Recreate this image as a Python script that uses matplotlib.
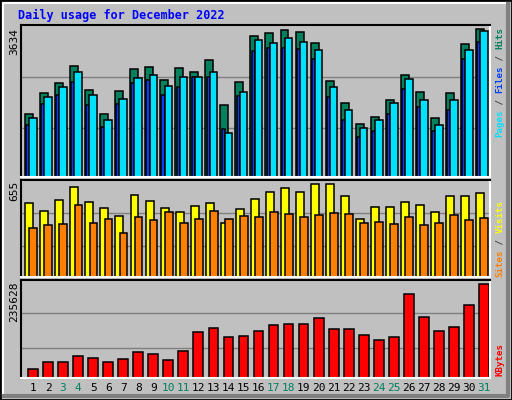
import matplotlib
matplotlib.use("Agg")
import matplotlib.pyplot as plt
import numpy as np

days = list(range(1, 32))
weekend = [3, 4, 10, 11, 17, 18, 24, 25, 31]

hits = [1543, 2066, 2315, 2738, 2141, 1543, 2116, 2663, 2713, 2389, 2688, 2589, 2862, 1767, 2340, 3460,
        3534, 3609, 3559, 3285, 2365, 1817, 1294, 1469, 1892, 2514, 2091, 1444, 2066, 3261, 3634]
files = [1444, 1966, 2215, 2589, 2016, 1394, 1917, 2439, 2514, 2240, 2464, 2464, 2589, 1070, 2091, 3360,
         3285, 3410, 3310, 3111, 2215, 1643, 1195, 1394, 1817, 2414, 1892, 1269, 1892, 3111, 3584]
pages = [1269, 1792, 2016, 2340, 1767, 1220, 1792, 2315, 2389, 2016, 2215, 2464, 2464, 1170, 1991, 3086,
         3161, 3161, 3136, 2887, 1966, 1394, 971, 1120, 1543, 2165, 1717, 1120, 1643, 2887, 3310]
visits = [521, 465, 542, 634, 528, 486, 429, 577, 535, 486, 458, 500, 521, 380, 479, 549,
          598, 627, 598, 655, 655, 570, 408, 493, 493, 528, 507, 458, 570, 570, 591]
sites = [345, 366, 373, 507, 380, 408, 310, 422, 401, 458, 380, 408, 465, 408, 429, 422,
         458, 444, 422, 437, 451, 444, 380, 387, 373, 422, 366, 380, 437, 401, 415]
kbytes = [23050, 40976, 40976, 56342, 51220, 40976, 48659, 64025, 61464, 46098, 66586, 115245, 125489,
          102440, 105001, 117806, 133172, 135733, 135733, 151099, 122928, 122928, 107562, 94757,
          102440, 210002, 153660, 117806, 128050, 184392, 235628]

BG = "#c0c0c0"
C_HITS, C_FILES, C_PAGES = "#00805c", "#00e0ff", "#0040ff"
C_VISITS, C_SITES, C_KB = "#ffff00", "#ff8000", "#ff0000"
MONO = "DejaVu Sans Mono"

W, H = 512, 400
fig = plt.figure(figsize=(W / 100, H / 100), dpi=100, facecolor=BG)

# bevelled window border
fig.patches.append(plt.Rectangle((0, 0), 1, 1, transform=fig.transFigure, fill=False, ec="black", lw=2))
fig.lines.append(plt.Line2D([3 / W, 3 / W, 1 - 3 / W], [3 / H, 1 - 3 / H, 1 - 3 / H],
                            transform=fig.transFigure, color="white", lw=1.5))
fig.lines.append(plt.Line2D([4 / W, 1 - 4 / W, 1 - 4 / W], [4 / H, 4 / H, 1 - 4 / H],
                            transform=fig.transFigure, color="#808080", lw=3))

def panel(y0, y1):
    ax = fig.add_axes([21 / W, 1 - y1 / H, 469 / W, (y1 - y0) / H])
    ax.set_facecolor(BG)
    ax.set_xlim(0.2, 31.4)
    ax.set_xticks([])
    ax.set_yticks([])
    for s in ("top", "left"):
        ax.spines[s].set_color("black")
        ax.spines[s].set_linewidth(1.5)
    for s in ("bottom", "right"):
        ax.spines[s].set_color("white")
        ax.spines[s].set_linewidth(1.5)
    return ax

x = np.array(days)
kw = dict(edgecolor="black", linewidth=1.1)

ax1 = panel(25, 177)
top1 = max(hits) * 151 / 147
ax1.set_ylim(0, top1)
for f in (0.325, 0.66):
    ax1.axhline(top1 * f, color="#808080", lw=1, zorder=0)
ax1.bar(x - 0.27, hits, width=0.53, color=C_HITS, **kw)
ax1.bar(x - 0.33, pages, width=0.25, color=C_PAGES, **kw)
ax1.bar(x + 0.0, files, width=0.5, color=C_FILES, **kw)

ax2 = panel(180, 277)
top2 = max(visits) * 97 / 93
ax2.set_ylim(0, top2)
for f in (0.32, 0.66):
    ax2.axhline(top2 * f, color="#808080", lw=1, zorder=0)
ax2.bar(x - 0.25, visits, width=0.53, color=C_VISITS, **kw)
ax2.bar(x + 0.02, sites, width=0.52, color=C_SITES, **kw)

ax3 = panel(280, 378)
top3 = max(kbytes) * 96 / 92
ax3.set_ylim(0, top3)
for f in (0.31, 0.66):
    ax3.axhline(top3 * f, color="#808080", lw=1, zorder=0)
ax3.bar(x, kbytes, width=0.65, color=C_KB, **kw)

for d in days:
    ax3.text(d, -0.1, str(d), transform=ax3.get_xaxis_transform(), ha="center", va="center",
             fontsize=8, family=MONO, color=C_HITS if d in weekend else "black")

fig.text(18 / W, 1 - 15 / H, "Daily usage for December 2022", color="#0000ff", fontsize=8.5,
         family=MONO, fontweight="bold", va="center", ha="left")

for label, ytop in (("3634", 28), ("655", 181), ("235628", 282)):
    fig.text(14 / W, 1 - ytop / H, label, rotation=90, ha="center", va="top", fontsize=8, family=MONO)

def vlabel(parts, ybottom):
    y = ybottom
    for txt, col in parts:
        fig.text(500 / W, 1 - y / H, txt, rotation=90, ha="center", va="bottom",
                 fontsize=6.6, family=MONO, fontweight="bold", color=col)
        y -= len(txt) * 5.5

vlabel([("Pages", C_FILES), (" / ", "#404040"), ("Files", C_PAGES), (" / ", "#404040"), ("Hits", C_HITS)], 137)
vlabel([("Sites", C_SITES), (" / ", "#404040"), ("Visits", C_VISITS)], 277)
vlabel([("KBytes", C_KB)], 376)

fig.savefig("out.png", dpi=100, facecolor=BG)
